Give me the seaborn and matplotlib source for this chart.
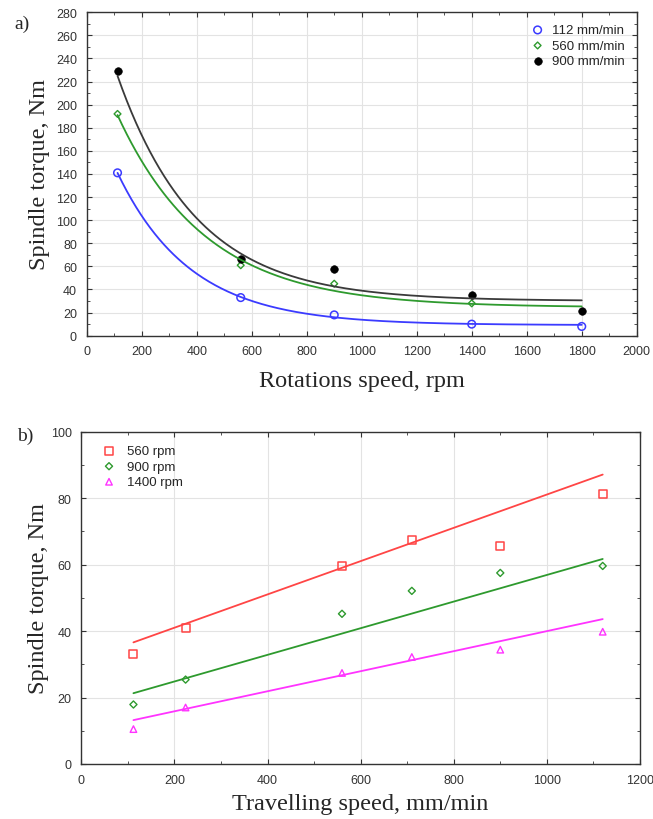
import numpy as np
import pandas as pd
import seaborn as sns
import matplotlib.pyplot as plt
from matplotlib.ticker import MultipleLocator

# panel a) torque vs rotational speed
rpm = [112, 560, 900, 1400, 1800]
torque_112 = [141, 33, 18, 10, 8]
torque_560 = [192, 61, 45, 28]
torque_900 = [229, 66, 58, 35, 21]
# fitted curves at the same speeds
curve_112 = [141, 33, 17, 10.1, 8.9]
curve_560 = [191, 66, 38.5, 27.7, 25.3]
curve_900 = [225, 71, 42.5, 32.6, 30.5]
labels_a = ['112 mm/min', '560 mm/min', '900 mm/min']

# panel b) torque vs travelling speed
speed = [112, 224, 560, 710, 900, 1120]
t_560 = [33, 41, 59.7, 67.4, 65.6, 81.2]
t_900 = [17.9, 25.4, 45.2, 52.1, 57.5, 59.6]
t_1400 = [10.5, 17, 27.4, 32.2, 34.4, 39.8]
fit_speed = [112, 1120]
fit_560 = [36.6, 87.1]
fit_900 = [21.3, 61.7]
fit_1400 = [13.2, 43.6]
labels_b = ['560 rpm', '900 rpm', '1400 rpm']


def exp_fit(x, y):
    # y = a + b*exp(-c*x), grid over c, least squares for a, b
    x = np.asarray(x, float)
    y = np.asarray(y, float)
    best = None
    for c in np.linspace(0.0005, 0.02, 800):
        A = np.column_stack([np.ones_like(x), np.exp(-c * x)])
        coef = np.linalg.lstsq(A, y, rcond=None)[0]
        err = ((A @ coef - y) ** 2).sum()
        if best is None or err < best[0]:
            best = (err, c, coef)
    _, c, (a, b) = best
    xs = np.linspace(x.min(), x.max(), 300)
    return xs, a + b * np.exp(-c * xs)


sns.set_style('ticks')
plt.rcParams['font.family'] = ['Liberation Sans', 'DejaVu Sans']

fig = plt.figure(figsize=(6.53, 8.2), dpi=100)
ax1 = fig.add_axes([0.1328, 0.5894, 0.8423, 0.3944])
ax2 = fig.add_axes([0.1245, 0.0671, 0.8555, 0.4052])

blue, green, black = '#3b3bff', '#2e9a2e', '#3a3a3a'
red, magenta = '#ff4545', '#ff33ff'
serif = ['Liberation Serif', 'DejaVu Serif']

# ---- panel a
for curve, col in [(curve_112, blue), (curve_560, green), (curve_900, black)]:
    xs, ys = exp_fit(rpm, curve)
    sns.lineplot(x=xs, y=ys, color=col, lw=1.3, ax=ax1)
sns.scatterplot(x=rpm, y=torque_112, marker='o', s=30, facecolor='none',
                edgecolor=blue, linewidth=1.1, label=labels_a[0], ax=ax1)
sns.scatterplot(x=rpm[:4], y=torque_560, marker='D', s=12, facecolor='none',
                edgecolor=green, linewidth=1.0, label=labels_a[1], ax=ax1)
sns.scatterplot(x=rpm, y=torque_900, marker='o', s=30, color='black',
                edgecolor='black', label=labels_a[2], ax=ax1)

ax1.set_xlim(0, 2000)
ax1.set_ylim(0, 280)
ax1.xaxis.set_major_locator(MultipleLocator(200))
ax1.yaxis.set_major_locator(MultipleLocator(20))
ax1.xaxis.set_minor_locator(MultipleLocator(100))
ax1.yaxis.set_minor_locator(MultipleLocator(10))
ax1.set_xlabel('Rotations speed, rpm', family=serif, fontsize=17.5, labelpad=9)
ax1.set_ylabel('Spindle torque, Nm', family=serif, fontsize=17.5, labelpad=4)
ax1.legend(loc='upper right', frameon=False, fontsize=9.5, handletextpad=0.5,
           borderaxespad=0.5, labelspacing=0.25, handlelength=1.2)
fig.text(0.022, 0.965, 'a)', family=serif, fontsize=14)

# ---- panel b
for fit, col in [(fit_560, red), (fit_900, green), (fit_1400, magenta)]:
    sns.lineplot(x=fit_speed, y=fit, color=col, lw=1.3, ax=ax2)
sns.scatterplot(x=speed, y=t_560, marker='s', s=34, facecolor='none',
                edgecolor=red, linewidth=1.1, label=labels_b[0], ax=ax2)
sns.scatterplot(x=speed, y=t_900, marker='D', s=13, facecolor='none',
                edgecolor=green, linewidth=1.0, label=labels_b[1], ax=ax2)
sns.scatterplot(x=speed, y=t_1400, marker='^', s=22, facecolor='none',
                edgecolor=magenta, linewidth=1.0, label=labels_b[2], ax=ax2)

ax2.set_xlim(0, 1200)
ax2.set_ylim(0, 100)
ax2.xaxis.set_major_locator(MultipleLocator(200))
ax2.yaxis.set_major_locator(MultipleLocator(20))
ax2.xaxis.set_minor_locator(MultipleLocator(100))
ax2.yaxis.set_minor_locator(MultipleLocator(10))
ax2.set_xlabel('Travelling speed, mm/min', family=serif, fontsize=17.5, labelpad=5)
ax2.set_ylabel('Spindle torque, Nm', family=serif, fontsize=17.5, labelpad=1)
ax2.legend(loc='upper left', frameon=False, fontsize=9.5, handletextpad=0.3,
           borderaxespad=0.6, labelspacing=0.25, handlelength=2.2)
fig.text(0.026, 0.462, 'b)', family=serif, fontsize=14)

for ax in (ax1, ax2):
    ax.grid(True, which='major', color='#e3e3e3', lw=0.8)
    ax.set_axisbelow(True)
    ax.tick_params(which='both', direction='in', top=True, right=True,
                   labelsize=9, labelcolor='#333333', color='#333333')
    ax.tick_params(which='major', length=3.5, width=0.8, pad=7)
    ax.tick_params(which='minor', length=2, width=0.6)
    for sp in ax.spines.values():
        sp.set_color('#333333')
        sp.set_linewidth(1.0)

fig.savefig('out.png', dpi=100)
